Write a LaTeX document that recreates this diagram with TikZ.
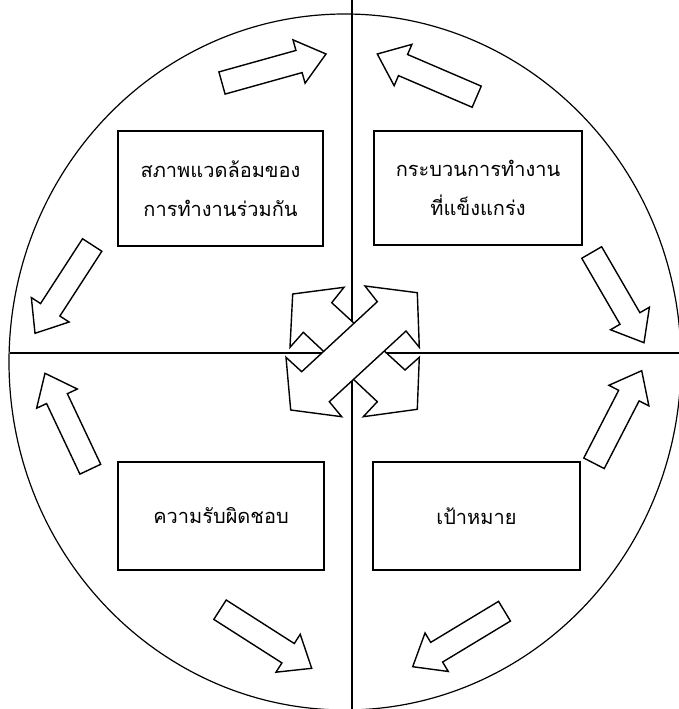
\documentclass[tikz,border=0pt]{standalone}
\usepackage{fontspec}
\newfontfamily\thaifont[Script=Thai]{Loma}
\usetikzlibrary{calc}
\newcommand\blkarrow[2]{%
 \draw[arr] ($(#1)!11.5pt!90:(#2)$) -- ($(#2)!28pt!(#1)!11.5pt!90:(#2)$)
   -- ($(#2)!28pt!(#1)!22.5pt!90:(#2)$) -- (#2)
   -- ($(#2)!28pt!(#1)!22.5pt!-90:(#2)$) -- ($(#2)!28pt!(#1)!11.5pt!-90:(#2)$)
   -- ($(#1)!11.5pt!-90:(#2)$) -- cycle;}
\begin{document}
\begin{tikzpicture}[x=1pt,y=-1pt,
  ln/.style={line width=1.4pt},
  box/.style={draw, line width=1.7pt, align=center, inner sep=0pt,
    font=\thaifont\fontsize{20}{39}\selectfont},
  arr/.style={draw, fill=white, line width=1.4pt, line join=miter}]
\useasboundingbox (0,0) rectangle (679,709);
\fill[white] (0,0) rectangle (679,709);
% circle
\draw[line width=1.2pt] (345,362) ellipse [x radius=336, y radius=348];
% cross lines
\coordinate (vt) at (352,0);
\coordinate (vb) at (352,709);
\coordinate (hl) at (10,353);
\coordinate (hr) at (679,353);
\draw[ln] (vt) -- (vb);
\draw[ln] (hl) -- (hr);
% boxes
\node[box, minimum width=205pt, minimum height=115pt] (b1) at (220.5,188.5)
  {สภาพแวดล้อมของ\\การทำงานร่วมกัน};
\node[box, minimum width=208pt, minimum height=114pt] (b2) at (478,188)
  {กระบวนการทำงาน\\ที่แข็งแกร่ง};
\node[box, minimum width=206pt, minimum height=108pt] (b3) at (221,516)
  {ความรับผิดชอบ};
\node[box, minimum width=207pt, minimum height=108pt] (b4) at (476.5,516)
  {เป้าหมาย};
% outer block arrows
\coordinate (a1t) at (222,83);    \coordinate (a1h) at (326,54);
\coordinate (a2t) at (476.7,96.7);\coordinate (a2h) at (377.3,54);
\coordinate (a3t) at (92.2,245);  \coordinate (a3h) at (35,333.3);
\coordinate (a4t) at (591.7,252.5);\coordinate (a4h) at (644,342.7);
\coordinate (a5t) at (90.3,469.2);\coordinate (a5h) at (45,373.3);
\coordinate (a6t) at (594,463.3); \coordinate (a6h) at (641.7,370.7);
\coordinate (a7t) at (220,609.7); \coordinate (a7h) at (311.7,668.3);
\coordinate (a8t) at (504.5,611.2);\coordinate (a8h) at (412.7,666.7);
\blkarrow{a1t}{a1h}
\blkarrow{a2t}{a2h}
\blkarrow{a3t}{a3h}
\blkarrow{a4t}{a4h}
\blkarrow{a5t}{a5h}
\blkarrow{a6t}{a6h}
\blkarrow{a7t}{a7h}
\blkarrow{a8t}{a8h}
% central double arrows
\draw[arr] (292.7,294) -- (344,287.3) -- (331.7,302.7) -- (405,370)
  -- (419.3,357.3) -- (417.3,409.3) -- (363.3,416.7) -- (377.3,401.7)
  -- (303.3,332.3) -- (290,347.3) -- cycle;
\draw[arr] (417.3,292.7) -- (419.3,347.3) -- (406,331) -- (329.3,401.7)
  -- (341.7,416.7) -- (290.7,410) -- (286,357.3) -- (301.7,371.7)
  -- (377.3,301.7) -- (365,286) -- cycle;
\end{tikzpicture}
\end{document}
